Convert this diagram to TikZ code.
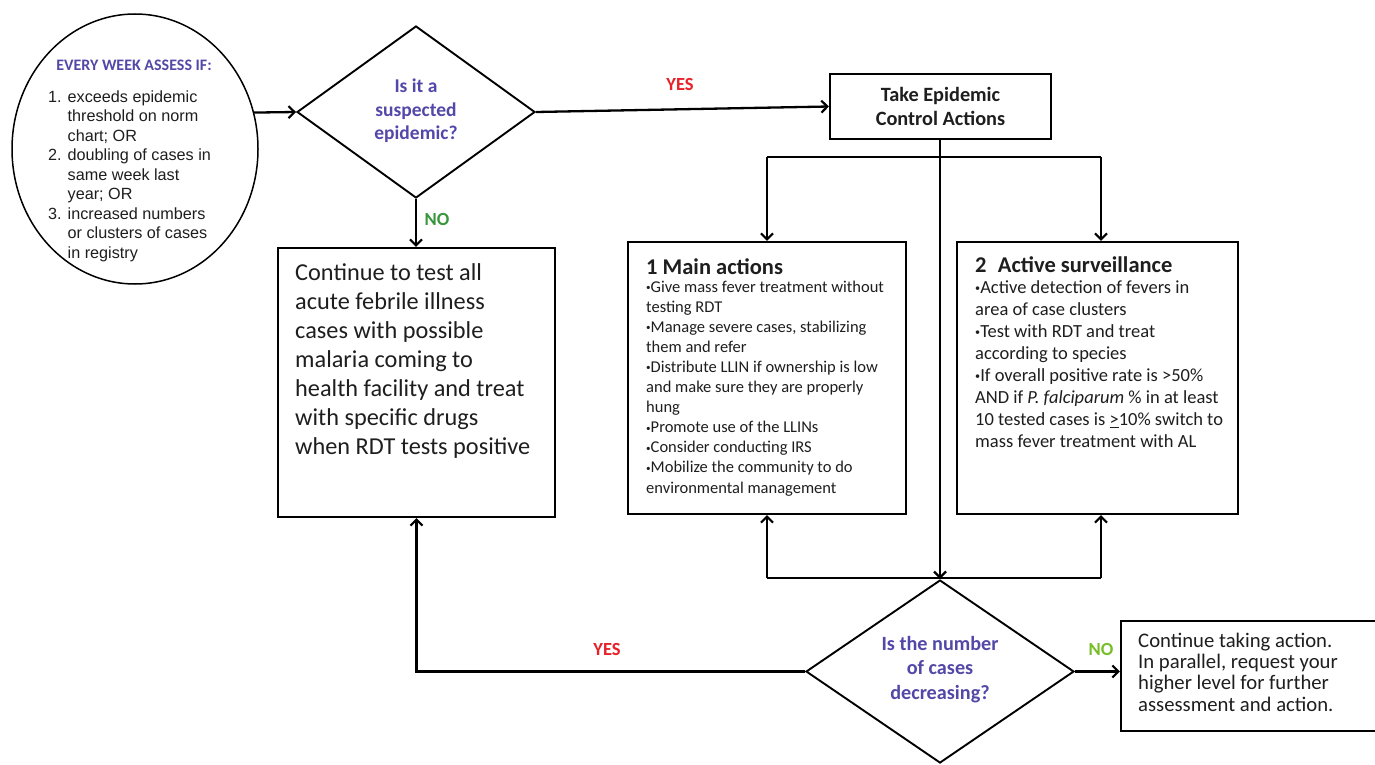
\documentclass[tikz,border=0pt]{standalone}
\usepackage{fontspec}
\usepackage{graphicx}
\setmainfont{Carlito}
\newfontfamily\arialf{Liberation Sans}
\usetikzlibrary{shapes.geometric,arrows.meta,calc}
\definecolor{qblue}{RGB}{82,72,168}
\definecolor{yred}{RGB}{232,32,40}
\definecolor{ngreen}{RGB}{56,150,60}
\definecolor{ngreenb}{RGB}{120,190,40}
\definecolor{tgray}{RGB}{30,30,30}
\newcommand\mybul{\raisebox{0.2ex}{\scalebox{0.55}{\textbullet}}}
\begin{document}
\begin{tikzpicture}[x=1pt,y=-1pt,
  box/.style={draw, line width=2.2pt, rectangle, inner sep=0},
  dia/.style={draw, line width=1.9pt, diamond, inner sep=0},
  conn/.style={line width=2.3pt},
  arr/.style={conn, -{Straight Barb[length=6pt,width=12pt,line width=2.2pt]}},
  txt/.style={inner sep=0, align=left, anchor=base west, text=tgray},
  lab/.style={inner sep=0, font=\fontsize{18.5}{22}\selectfont\bfseries},
]
\useasboundingbox (0,0) rectangle (1375,765);
\fill[white] (0,0) rectangle (1375,765);

% ellipse
\node[draw, ellipse, line width=1.5pt, minimum width=246pt, minimum height=270pt] (ell) at (135,149) {};
\node[inner sep=0, anchor=base, font=\fontsize{16}{19}\selectfont\bfseries, text=qblue] (ellh) at (134,71) {EVERY WEEK ASSESS IF:};
\node[txt, font=\arialf\fontsize{16.2}{19.5}\selectfont] (elist) at (48,102.5)
{\begin{tabular}[t]{@{}r@{\hspace{6pt}}l@{}}
1. & exceeds epidemic\\
 & threshold on norm\\
 & chart; OR\\
2. & doubling of cases in\\
 & same week last\\
 & year; OR\\
3. & increased numbers\\
 & or clusters of cases\\
 & in registry
\end{tabular}};

% diamond 1
\node[dia, minimum width=238pt, minimum height=172pt] (d1) at (416,112) {};
\node[inner sep=0, align=center, font=\fontsize{19.5}{23.5}\selectfont\bfseries, text=qblue] (d1t) at (416,111) {Is it a\\suspected\\epidemic?};

% take epidemic box
\node[box, minimum width=221pt, minimum height=65pt, align=center, text=tgray, font=\fontsize{20.3}{24}\selectfont\bfseries] (tb) at (940.5,106.5) {Take Epidemic\\Control Actions};

% continue box
\node[box, minimum width=277pt, minimum height=269pt] (cb) at (416.5,382.5) {};
\node[txt, font=\fontsize{24.3}{29}\selectfont] (cbt) at (295,454) {Continue to test all\\acute febrile illness\\cases with possible\\malaria coming to\\health facility and treat\\with specific drugs\\when RDT tests positive};

% main actions
\node[box, minimum width=278pt, minimum height=272pt] (mb) at (767,378) {};
\node[txt, font=\fontsize{22.5}{26}\selectfont\bfseries] (mbh) at (646,274) {1 Main actions};
\node[txt, font=\fontsize{16.5}{20.1}\selectfont] (mbt) at (646,493) {\mybul Give mass fever treatment without\\testing RDT\\\mybul Manage severe cases, stabilizing\\them and refer\\\mybul Distribute LLIN if ownership is low\\and make sure they are properly\\hung\\\mybul Promote use of the LLINs\\\mybul Consider conducting IRS\\\mybul Mobilize the community to do\\environmental management};

% active surveillance
\node[box, minimum width=281pt, minimum height=272pt] (ab) at (1097.5,378) {};
\node[txt, font=\fontsize{22.5}{26}\selectfont\bfseries] (abh) at (975,272) {2\hspace{0.5em}Active surveillance};
\node[txt, font=\fontsize{18.5}{22}\selectfont] (abt) at (975,447.5) {\mybul Active detection of fevers in\\area of case clusters\\\mybul Test with RDT and treat\\according to species\\\mybul If overall positive rate is >50\%\\AND if \textit{P. falciparum} \% in at least\\10 tested cases is \underline{>}10\% switch to\\mass fever treatment with AL};

% diamond 2
\node[dia, minimum width=268pt, minimum height=183pt] (d2) at (940,671.5) {};
\node[inner sep=0, align=center, font=\fontsize{20.2}{24.5}\selectfont\bfseries, text=qblue] (d2t) at (940,669.5) {Is the number\\of cases\\decreasing?};

% final box
\node[box, minimum width=259pt, minimum height=110pt] (fb) at (1250.5,676) {};
\node[txt, font=\fontsize{20.7}{21.3}\selectfont] (fbt) at (1138,711) {Continue taking action.\\In parallel, request your\\higher level for further\\assessment and action.};

% labels
\node[lab, text=yred] (yes1) at (680,84) {YES};
\node[lab, text=ngreen] (no1) at (437,219) {NO};
\node[lab, text=yred] (yes2) at (607,649) {YES};
\node[lab, text=ngreenb] (no2) at (1101,649) {NO};

% connectors
\draw[arr] (ell.17.4) -- (d1.west);
\draw[arr] (d1.east) -- (tb.west);
\draw[arr] (d1.south) -- (d1.south |- cb.north);
\coordinate (tbs) at (940,139);
\coordinate (tl) at (767,157);
\coordinate (tr) at (1101,157);
\coordinate (bl) at (767,578);
\coordinate (br) at (1101,578);
\draw[conn] (tl) -- (tr);
\draw[arr] (tl) -- (tl |- mb.north);
\draw[arr] (tr) -- (tr |- ab.north);
\draw[arr] (tbs) -- (d2.north);
\draw[conn] (bl) -- (br);
\draw[arr] (bl) -- (bl |- mb.south);
\draw[arr] (br) -- (br |- ab.south);
\draw[arr] (d2.west) -| (cb.south);
\draw[arr] (d2.east) -- (d2.east -| fb.west);
\end{tikzpicture}
\end{document}
